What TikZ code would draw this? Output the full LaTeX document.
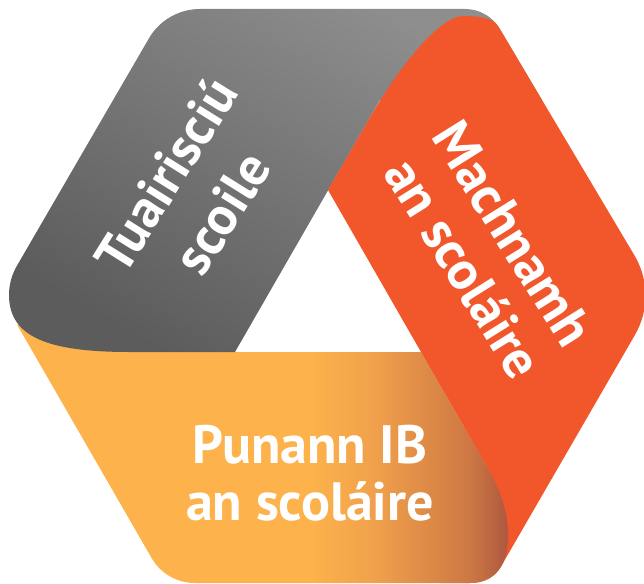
\documentclass[tikz,border=0pt]{standalone}
\usepackage{fontspec}
\newfontfamily\lblfont{PT Sans}
\definecolor{ribgrayA}{RGB}{142,142,142}
\definecolor{ribgrayB}{RGB}{92,92,92}
\definecolor{ribred}{RGB}{242,87,44}
\definecolor{ribyel}{RGB}{253,178,75}
\definecolor{ribyelb}{RGB}{240,160,75}
\definecolor{ribyelc}{RGB}{205,120,68}
\definecolor{ribyeld}{RGB}{176,90,64}
\pgfdeclarehorizontalshading{yelshade}{100bp}{color(0bp)=(ribyel); color(55bp)=(ribyel); color(61.5bp)=(ribyelb); color(71bp)=(ribyelc); color(74.6bp)=(ribyeld); color(100bp)=(ribyeld)}
\tikzset{
  grayband/.style={top color=ribgrayA, bottom color=ribgrayB, shading angle=-30},
  redband/.style={fill=ribred},
  yelband/.style={shading=yelshade},
  lbl/.style={text=white, inner sep=0pt, font=\lblfont\bfseries\fontsize{54}{60}\selectfont}
}
\begin{document}
\begin{tikzpicture}[x=1pt,y=-1pt]
\useasboundingbox (0,0) rectangle (644,583);
\clip (0,0) rectangle (644,583);
% yellow band (bottom)
\def\yelpath{(17.3,325) -- (60,300) -- (255,300) -- (235,352) -- (421,352) -- (487,467) .. controls (502,493) and (509,515) .. (508,540) .. controls (507,565) and (495,583) .. (470,583) -- (194.9,583) .. controls (177,583) and (160.5,573.5) .. (151.6,558) -- cycle}
\shade[yelband] \yelpath;
% gray band (upper left)
\shade[grayband] (235,352) -- (372,114) -- (380,100) -- (542,100) -- (499.8,28.8) .. controls (492.5,16.5) and (479.3,9) .. (465,9) -- (200,9) .. controls (179,9) and (159.4,20.2) .. (148.9,38.4) -- (16.8,266) .. controls (11.7,274.8) and (9,284.8) .. (9,295) .. controls (9,338) and (50,352) .. (130,352) -- cycle;
% red band (right)
\fill[redband] (328,190) -- (372,114) .. controls (400,66) and (440,16) .. (463,16) .. controls (478,16) and (492.9,17.4) .. (498,26) -- (634.4,255.3) .. controls (649,279.9) and (649.2,310.2) .. (634.9,335) -- (503,563) -- (478,560) -- (487,467) -- (421,352) -- cycle;
% yellow fold over the red band
\begin{scope}
\clip (440,440) rectangle (660,600);
\shade[yelband] \yelpath;
\end{scope}
% labels
\node[lbl, rotate=58] (g1) at (166,175) {Tuairisciú};
\node[lbl, rotate=58] (g2) at (222,213) {scoile};
\node[lbl, rotate=-58] (r1) at (513,234) {Machnamh};
\node[lbl, rotate=-58] (r2) at (464,268) {an scoláire};
\node[lbl, anchor=base] (y1) at (310,463) {Punann IB};
\node[lbl, anchor=base] (y2) at (310,520) {an scoláire};
\end{tikzpicture}
\end{document}
